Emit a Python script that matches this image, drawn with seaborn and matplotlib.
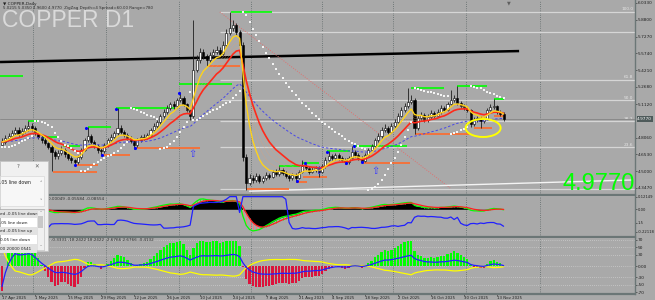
import numpy as np
import pandas as pd
import matplotlib
matplotlib.use("Agg")
import matplotlib.pyplot as plt
import seaborn as sns
from matplotlib.patches import Rectangle, Ellipse

# ---------------- data ----------------
open0 = 4.740
close = [4.766, 4.803, 4.821, 4.848, 4.875, 4.839, 4.866, 4.894, 4.912, 4.894,
         4.848, 4.812, 4.784, 4.757, 4.721, 4.675, 4.639, 4.666, 4.693, 4.657,
         4.620, 4.602, 4.584, 4.629, 4.693, 4.784, 4.821, 4.766, 4.730, 4.693,
         4.684, 4.739, 4.784, 4.812, 4.848, 4.894, 4.857, 4.830, 4.803, 4.775,
         4.739, 4.784, 4.812, 4.803, 4.830, 4.875, 4.912, 4.948, 5.003, 5.040,
         5.076, 5.112, 5.094, 5.149, 5.167, 5.112, 5.058, 5.003, 5.422, 5.513,
         5.586, 5.550, 5.513, 5.559, 5.586, 5.605, 5.568, 5.650, 5.760, 5.805,
         5.832, 5.769, 5.650, 4.629, 4.392, 4.438, 4.420, 4.456, 4.411, 4.438,
         4.465, 4.447, 4.493, 4.474, 4.511, 4.484, 4.456, 4.438, 4.465, 4.438,
         4.493, 4.547, 4.529, 4.493, 4.511, 4.529, 4.493, 4.547, 4.602, 4.639,
         4.620, 4.648, 4.620, 4.602, 4.584, 4.620, 4.675, 4.648, 4.620, 4.593,
         4.648, 4.693, 4.730, 4.784, 4.821, 4.875, 4.894, 4.857, 4.912, 4.948,
         5.003, 5.058, 5.094, 5.131, 5.149, 4.894, 4.985, 5.012, 4.967, 4.994,
         5.030, 5.003, 5.040, 5.076, 5.058, 5.112, 5.149, 5.167, 5.122, 5.094,
         5.076, 5.058, 4.930, 4.967, 4.985, 4.958, 4.976, 5.058, 5.085, 5.094,
         5.040, 5.021, 4.977]
high = [4.800, 4.830, 4.850, 4.880, 4.905, 4.900, 4.890, 4.925, 4.958, 4.940,
        4.910, 4.860, 4.830, 4.812, 4.770, 4.735, 4.690, 4.690, 4.730, 4.710,
        4.670, 4.640, 4.615, 4.650, 4.710, 4.800, 4.903, 4.840, 4.780, 4.745,
        4.715, 4.760, 4.805, 4.835, 4.870, 5.076, 4.920, 4.875, 4.850, 4.820,
        4.790, 4.800, 4.830, 4.840, 4.850, 4.895, 4.935, 4.970, 5.025, 5.065,
        5.100, 5.135, 5.140, 5.170, 5.222, 5.185, 5.125, 5.070, 5.878, 5.560,
        5.620, 5.610, 5.570, 5.590, 5.615, 5.640, 5.630, 5.690, 5.800, 5.951,
        5.880, 5.850, 5.790, 5.680, 4.660, 4.470, 4.465, 4.480, 4.475, 4.460,
        4.490, 4.485, 4.515, 4.520, 4.547, 4.530, 4.500, 4.470, 4.485, 4.480,
        4.515, 4.602, 4.565, 4.545, 4.535, 4.550, 4.545, 4.570, 4.625, 4.684,
        4.660, 4.670, 4.665, 4.640, 4.620, 4.640, 4.730, 4.695, 4.665, 4.635,
        4.665, 4.715, 4.750, 4.805, 4.850, 4.900, 4.930, 4.915, 4.935, 4.975,
        5.030, 5.085, 5.125, 5.258, 5.190, 5.165, 5.010, 5.040, 5.030, 5.020,
        5.055, 5.050, 5.065, 5.100, 5.095, 5.135, 5.240, 5.195, 5.276, 5.140,
        5.110, 5.090, 5.070, 4.990, 5.005, 5.000, 4.995, 5.075, 5.110, 5.158,
        5.105, 5.060, 5.035]
low = [4.720, 4.750, 4.785, 4.805, 4.830, 4.815, 4.820, 4.850, 4.870, 4.870,
       4.830, 4.790, 4.760, 4.735, 4.700, 4.500, 4.610, 4.615, 4.650, 4.630,
       4.600, 4.575, 4.547, 4.570, 4.615, 4.680, 4.770, 4.750, 4.710, 4.670,
       4.639, 4.670, 4.725, 4.765, 4.795, 4.830, 4.840, 4.810, 4.785, 4.755,
       4.702, 4.725, 4.770, 4.780, 4.790, 4.815, 4.860, 4.895, 4.930, 4.985,
       5.020, 5.060, 5.070, 5.080, 5.130, 5.095, 5.035, 4.967, 4.985, 5.400,
       5.490, 5.520, 5.459, 5.495, 5.540, 5.565, 5.545, 5.550, 5.630, 5.740,
       5.780, 5.745, 5.620, 4.590, 4.329, 4.370, 4.395, 4.400, 4.390, 4.395,
       4.420, 4.425, 4.435, 4.455, 4.460, 4.465, 4.440, 4.415, 4.420, 4.402,
       4.425, 4.480, 4.510, 4.475, 4.480, 4.495, 4.447, 4.480, 4.530, 4.590,
       4.600, 4.605, 4.600, 4.585, 4.566, 4.570, 4.605, 4.630, 4.600, 4.575,
       4.580, 4.635, 4.680, 4.715, 4.770, 4.805, 4.860, 4.840, 4.845, 4.895,
       4.935, 4.990, 5.040, 5.080, 5.115, 4.839, 4.880, 4.965, 4.945, 4.950,
       4.975, 4.985, 4.990, 5.025, 5.040, 5.045, 5.100, 5.130, 5.105, 5.075,
       5.055, 5.040, 4.903, 4.910, 4.950, 4.894, 4.940, 4.965, 5.045, 5.070,
       5.025, 5.005, 4.960]

date_idx = [0, 10, 20, 30, 40, 50, 60, 70, 80, 90, 100, 110, 120, 130, 140, 150]
date_labels = ["17 Apr 2025", "1 May 2025", "15 May 2025", "29 May 2025", "12 Jun 2025",
               "26 Jun 2025", "10 Jul 2025", "24 Jul 2025", "7 Aug 2025", "21 Aug 2025",
               "4 Sep 2025", "18 Sep 2025", "2 Oct 2025", "16 Oct 2025", "30 Oct 2025",
               "13 Nov 2025"]
month_grid_idx = [9.4, 31.5, 53.6, 75.5, 97.0, 118.5, 140.6, 163.0]

price_ticks = [6.0330, 5.8800, 5.7270, 5.5740, 5.4210, 5.2680, 5.1120, 4.8060, 4.6530, 4.5000, 4.3470]
bid_price = 4.9770

res_start = [-0.6, 7.9, 12.4, 18.5, 26.0, 34.5, 53.6, 69.5, 84.0, 91.0, 98.5, 106.5, 124.0, 138.0, 149.0]
res_end = [6.4, 10.9, 17.0, 23.6, 33.0, 52.4, 69.7, 81.8, 90.3, 96.0, 105.5, 122.7, 134.0, 147.0, 152.0]
res_level = [5.368, 4.958, 4.812, 4.730, 4.903, 5.076, 5.295, 5.951, 4.547, 4.575, 4.684, 4.730, 5.258, 5.276, 5.158]
sup_start = [15.5, 22.0, 30.0, 40.0, 62.0, 74.0, 89.0, 91.2, 109.0, 125.0, 143.0, 149.0]
sup_end = [28.8, 29.0, 38.8, 60.0, 72.0, 87.0, 92.4, 98.5, 123.6, 141.8, 148.5, 152.0]
sup_level = [4.493, 4.556, 4.648, 4.711, 5.459, 4.338, 4.402, 4.447, 4.575, 4.839, 4.894, 5.003]
piv_idx = [22.1, 25.5, 30.3, 34.5, 40.3, 53.6, 89.4, 91.8, 98.5, 104.2, 106.7, 109.0]
piv_price = [4.556, 4.894, 4.648, 5.067, 4.711, 5.213, 4.411, 4.575, 4.675, 4.575, 4.730, 4.584]
arrow_idx = [57.6, 95.8, 113.0]
arrow_price = [4.660, 4.500, 4.500]

black_trend_x = [-0.6, 156.7]
black_trend_y = [5.495, 5.595]
red_trend_x = [66.0, 135.8]
red_trend_y = [5.951, 4.347]
white_trend_x = [75.0, 191.0]
white_trend_y = [4.318, 4.420]

fib_start = 66.0
fib_low, fib_high = 4.338, 5.951
fib_pct = [0.0, 23.6, 38.2, 50.0, 61.8, 88.6, 100.0]
fib_labelled = ["", "23.6", "38.2", "50.0", "61.8", "", "100.0"]

circle_idx, circle_price = 145.8, 4.894

osc_levels = [70, 50, 30, 0, -30, -50]

# ---------------- derived frame / indicators ----------------
n = len(close)
df = pd.DataFrame({"i": np.arange(n), "close": close, "high": high, "low": low})
df["open"] = [open0] + close[:-1]
c = df["close"]

ema = lambda s, p: s.ewm(span=p, adjust=False).mean()
df["yellow"] = ema(c, 6)
df["red"] = ema(c, 14)
df["blue"] = ema(c, 40)


def psar(h, l, af0=0.02, afmax=0.2):
    h = np.asarray(h); l = np.asarray(l)
    out = np.zeros(len(h)); bull = True; af = af0; ep = h[0]; out[0] = l[0]
    for k in range(1, len(h)):
        s = out[k - 1] + af * (ep - out[k - 1])
        if bull:
            s = min(s, l[k - 1], l[max(k - 2, 0)])
            if l[k] < s:
                bull = False; s = ep; ep = l[k]; af = af0
            elif h[k] > ep:
                ep = h[k]; af = min(af + af0, afmax)
        else:
            s = max(s, h[k - 1], h[max(k - 2, 0)])
            if h[k] > s:
                bull = True; s = ep; ep = h[k]; af = af0
            elif l[k] < ep:
                ep = l[k]; af = min(af + af0, afmax)
        out[k] = s
    return out


df["sar"] = psar(df.high, df.low)

macd = 0.55 * (ema(c, 5) - ema(c, 13))
sig = ema(macd, 5)
prev_c = c.shift(1).fillna(open0)
tr = pd.concat([df.high - df.low, (df.high - prev_c).abs(), (df.low - prev_c).abs()], axis=1).max(axis=1)
atr = tr.rolling(14, min_periods=1).mean()

d = c.diff().fillna(0)
au = d.clip(lower=0).ewm(alpha=1 / 14, adjust=False).mean()
ad = (-d.clip(upper=0)).ewm(alpha=1 / 14, adjust=False).mean()
rsi = 100 - 100 / (1 + au / ad.replace(0, 1e-9))
hist = (2.6 * (ema(rsi, 3) - 50)).clip(-68, 68)
osc_blue = 1.1 * ema(rsi - 50, 5)
osc_yellow = -1.0 * ema(rsi - 50, 8)

# ---------------- figure ----------------
sns.set_theme(style="white")
plt.rcParams["font.family"] = ["DejaVu Sans"]

BG = "#a9a9a9"
W, H = 655, 300
fig = plt.figure(figsize=(6.55, 3.0), dpi=100)
fig.patch.set_facecolor(BG)


def fbox(x0, y0, x1, y1):
    return [x0 / W, 1 - y1 / H, (x1 - x0) / W, (y1 - y0) / H]


ax = fig.add_axes(fbox(0, 0, 635, 195))
axm = fig.add_axes(fbox(0, 196, 635, 237))
axm2 = axm.twinx()
axb = fig.add_axes(fbox(0, 238, 635, 294))
XL = (-2 / 3.3, 633 / 3.3)
SEP = "#6b7676"
axm2.set_xlim(*XL)
axm2.set_ylim(0.045, 0.175)
axm2.axis("off")
for a in (ax, axm, axb):
    a.set_facecolor(BG)
    a.set_xlim(*XL)
    for s in a.spines.values():
        s.set_visible(False)
    a.spines["right"].set_visible(True)
    a.spines["right"].set_color(SEP)
    a.spines["right"].set_linewidth(1.0)
    a.spines["bottom"].set_visible(True)
    a.spines["bottom"].set_color(SEP)
    a.spines["bottom"].set_linewidth(1.6)
    a.yaxis.tick_right()
    a.tick_params(axis="y", right=True, left=False, labelleft=False, labelright=True,
                  length=1.5, width=0.5, color="#3a3a3a", labelsize=3.1, labelcolor="#1e1e1e", pad=0.6)
    a.tick_params(axis="x", bottom=False, labelbottom=False)
    a.grid(False)
    for g in month_grid_idx:
        a.axvline(g, color="#5d6868", lw=0.6, ls=(0, (1, 1.6)), zorder=1)
axm.tick_params(axis="y", labelsize=2.7)

# ---- main panel ----
ax.set_ylim(4.2831, 6.0603)
ax.set_yticks(price_ticks)
ax.set_yticklabels([f"{p:.4f}" for p in price_ticks])

for p, lab in zip(fib_pct, fib_labelled):
    lvl = fib_low + (fib_high - fib_low) * p / 100
    ax.hlines(lvl, fib_start, XL[1], color="#d6d6d6", lw=0.9, zorder=2)
    if lab:
        ax.text(XL[1] - 0.6, lvl + 0.006, lab, fontsize=3.1, color="#e6e6e6", ha="right", va="bottom", zorder=2)

ax.axhline(bid_price, color="#8a8a8a", lw=0.7, zorder=2)
ax.plot(black_trend_x, black_trend_y, color="black", lw=1.8, zorder=3, solid_capstyle="butt")
ax.plot(red_trend_x, red_trend_y, color="#e07070", lw=0.7, ls=(0, (1, 1.5)), zorder=3)
ax.plot(white_trend_x, white_trend_y, color="#f4f4f4", lw=1.0, zorder=3)

# support / resistance
ax.hlines(res_level, res_start, res_end, color="#00ff00", lw=1.2, zorder=3)
ax.hlines(sup_level, sup_start, sup_end, color="#ff6a2a", lw=1.2, zorder=3)

# candles
up = df.close >= df.open
ax.vlines(df.i, df.low, df.high, color="#1e1e1e", lw=0.6, zorder=4)
body = (df.close - df.open).abs().clip(lower=0.004)
ax.bar(df.i, body, bottom=np.minimum(df.open, df.close), width=0.62,
       color=np.where(up, "white", "black"), edgecolor="black", linewidth=0.4, zorder=5)

# moving-average ribbon
for p in [8, 10, 12]:
    sns.lineplot(x=df.i, y=ema(c, p), ax=ax, color="#e8a070", lw=0.3, alpha=0.6, legend=False, zorder=6)
sns.lineplot(x=df.i, y=df.blue, ax=ax, color="#4848e8", lw=0.7, linestyle=(0, (2.5, 2)), legend=False, zorder=6)
sns.lineplot(x=df.i, y=df.red, ax=ax, color="#ff2a1a", lw=1.2, legend=False, zorder=6)
sns.lineplot(x=df.i, y=df.yellow, ax=ax, color="#ffd21a", lw=1.0, legend=False, zorder=6)
sns.scatterplot(x=df.i, y=df.sar, ax=ax, color="#f4f4f4", marker="s", s=0.9, linewidth=0, legend=False, zorder=7)
sns.scatterplot(x=piv_idx, y=piv_price, ax=ax, color="#0000ff", s=5, linewidth=0, legend=False, zorder=8)
for xi, yi in zip(arrow_idx, arrow_price):
    ax.text(xi, yi, "\u21e7", color="#3a3aff", fontsize=7, ha="center", va="center", zorder=8)
ax.add_patch(Ellipse((circle_idx, circle_price), 10.6, 0.164, fill=False, edgecolor="#ffff00", lw=1.4, zorder=9))
ax.set_xlabel(""); ax.set_ylabel("")

# bid label on the price scale
ax.annotate(f"{bid_price:.4f}", xy=(1.0, bid_price), xycoords=("axes fraction", "data"),
            xytext=(1.6, 0), textcoords="offset points", fontsize=3.1, color="white",
            ha="left", va="center", bbox=dict(boxstyle="square,pad=0.15", fc="#4e5a5a", ec="none"))

# ---- middle panel ----
axm.set_ylim(-0.273, 0.131)
axm.set_yticks([0.12149, 0.0, -0.131, -0.22118])
axm.set_yticklabels(["0.12149", "0.00", "1.5", "-0.22118"])
same = np.sign(macd) == np.sign(sig)
inner = np.where(same, np.where(macd.abs() < sig.abs(), macd, sig), 0.0)
axm.fill_between(df.i, 0, inner, color="black", lw=0, zorder=2)
axm.vlines(df.i, sig, macd, colors=np.where(macd > sig, "#22ff22", "#f08080"), lw=0.7, zorder=3)
sns.lineplot(x=df.i, y=macd, ax=axm, color="#00ff00", lw=0.9, legend=False, zorder=4)
sns.lineplot(x=df.i, y=sig, ax=axm, color="#ff2020", lw=0.9, legend=False, zorder=4)
sns.lineplot(x=df.i, y=atr.clip(upper=0.173), ax=axm2, color="#2020ff", lw=0.9, legend=False)
axm.set_xlabel(""); axm.set_ylabel("")
axm2.set_xlabel(""); axm2.set_ylabel("")

# ---- bottom panel ----
axb.set_ylim(-75, 75)
axb.set_yticks([70, 50, 30, 0, -30, -50, -70])
axb.set_yticklabels(["70", "50", "30", "0.00", "-30", "-50", "-70"])
for v in osc_levels:
    axb.axhline(v, color="#dcdcdc", lw=0.5, ls=(0, (1, 2)), zorder=1)
axb.bar(df.i, hist, width=0.7, color=np.where(hist >= 0, "#00ff00", "#dc143c"), lw=0, zorder=2)
sns.lineplot(x=df.i, y=osc_yellow, ax=axb, color="#ffff00", lw=0.9, legend=False, zorder=3)
sns.lineplot(x=df.i, y=osc_blue, ax=axb, color="#2020ff", lw=0.9, legend=False, zorder=3)
axb.set_xlabel(""); axb.set_ylabel("")
axb.set_xticks(date_idx)
axb.set_xticklabels(date_labels)
axb.tick_params(axis="x", bottom=True, labelbottom=True, length=1.2, width=0.5, color="#3a3a3a",
                labelsize=2.8, labelcolor="#1e1e1e", pad=0.3)
for t in axb.get_xticklabels():
    t.set_ha("left")

# ---- texts ----
fig.text(3 / W, 1 - 4 / H, "\u25bc COPPER,Daily", fontsize=3.1, color="#202020", va="center")
fig.text(3 / W, 1 - 8.5 / H, "5.0215 5.0350 4.9600 4.9770  ZigZag Depth=4 Spread=60.00 Range=780",
         fontsize=2.9, color="#303030", va="center")
fig.text(2 / W, 1 - 27 / H, "COPPER D1", fontsize=16.5, family="Liberation Sans", color="#dadada", va="baseline")
fig.text(635 / W, 1 - 190 / H, "4.9770", fontsize=17, family="Liberation Sans", color="#00ff00",
         ha="right", va="baseline", zorder=20)
fig.text(509 / W, 1 - 3 / H, "\u25bc", fontsize=3.5, color="#606060", ha="center", va="center")
fig.text(48 / W, 1 - 199.5 / H, "0.00049 -0.05584 -0.08554", fontsize=3.0, color="#303030", va="center")
fig.text(48 / W, 1 - 240 / H, "( -0.3331 -18.2422 18.2422 -2.6766 2.6766 -0.4132", fontsize=3.0,
         color="#303030", va="center")


# ---- dialog window overlapping the left side ----
def frect(x0, y0, x1, y1, **kw):
    fig.add_artist(Rectangle((x0 / W, 1 - y1 / H), (x1 - x0) / W, (y1 - y0) / H,
                             transform=fig.transFigure, **kw))


def ftext(x, y, s, **kw):
    fig.text(x / W, 1 - y / H, s, va="center", **kw)


frect(0, 161, 48, 251, fc="#f0f0f0", ec="#c4c4c4", lw=0.6, zorder=30)
ftext(18, 167, "?", fontsize=4, color="#606060", ha="center", zorder=31)
ftext(37, 167, "\u2715", fontsize=4, color="#606060", ha="center", zorder=31)
frect(0, 176, 44, 206, fc="#f7f7f7", ec="#d8d8d8", lw=0.5, zorder=31)
ftext(0.5, 183, ".05 line down", fontsize=3.3, color="#222222", zorder=32)
ftext(41, 183, "\u02c4", fontsize=3.5, color="#707070", ha="center", zorder=32)
ftext(41, 202, "\u02c5", fontsize=3.5, color="#707070", ha="center", zorder=32)
frect(0, 209, 44, 250, fc="#ffffff", ec="#a0a0a0", lw=0.5, zorder=31)
rows = ["ed -0.05 line down", ".05 line down", "ed -0.05 line up", "0.05 line down", "00 20000 0541"]
for k, r in enumerate(rows):
    y0 = 210 + 8.6 * k
    if k % 2 == 0:
        frect(0, y0, 37, y0 + 8.2, fc="#e2e2e2", ec="none", zorder=32)
    ftext(0.5, y0 + 4.2, r, fontsize=3.0, color="#222222", zorder=33)
frect(37, 210, 44, 250, fc="#f0f0f0", ec="#d0d0d0", lw=0.4, zorder=34)
frect(38, 216, 43, 228, fc="#c8c8c8", ec="none", zorder=35)
ftext(40.5, 213, "\u02c4", fontsize=3.0, color="#606060", ha="center", zorder=35)
ftext(40.5, 247, "\u02c5", fontsize=3.0, color="#606060", ha="center", zorder=35)

fig.savefig("out.png", dpi=100, facecolor=BG)
